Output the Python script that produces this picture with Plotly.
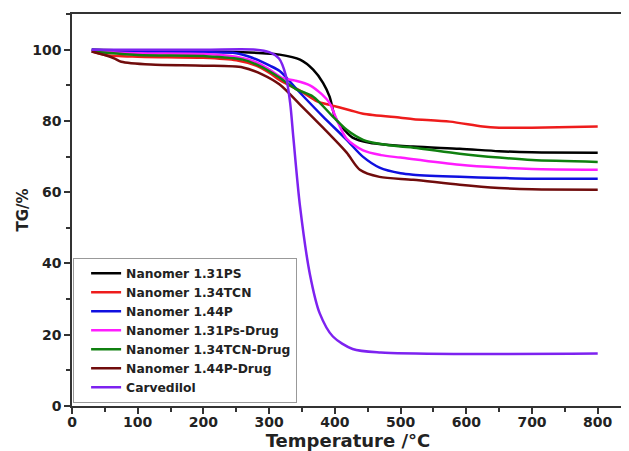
import plotly.graph_objects as go

# ---- data ----
t_131ps = [30, 100, 200, 260, 290, 316, 347, 367, 382, 392, 400, 408, 427, 453, 519, 590, 650, 700, 800]
tg_131ps = [100, 99.7, 99.5, 99.3, 99.0, 98.6, 97.2, 94.4, 90.7, 86.8, 81.2, 78.9, 75.3, 73.9, 72.8, 72.2, 71.5, 71.2, 71.1]

t_134tcn = [30, 50, 100, 200, 250, 280, 300, 320, 347, 373, 392, 423, 443, 500, 520, 575, 625, 650, 700, 800]
tg_134tcn = [99.5, 98.5, 98.0, 97.7, 97.0, 95.5, 93.5, 91.0, 88.5, 85.5, 84.5, 83.0, 82.0, 80.9, 80.5, 79.8, 78.4, 78.1, 78.1, 78.4]

t_144p = [30, 100, 200, 250, 270, 290, 301, 316, 347, 382, 418, 443, 468, 500, 519, 590, 650, 700, 800]
tg_144p = [100, 99.5, 99.3, 99.0, 98.0, 96.5, 95.5, 94.0, 87.9, 81.2, 74.7, 69.9, 66.9, 65.3, 64.9, 64.3, 64.0, 63.8, 63.8]

t_131ps_drug = [30, 100, 200, 250, 280, 300, 321, 340, 362, 380, 392, 403, 418, 443, 470, 500, 590, 651, 700, 800]
tg_131ps_drug = [99.5, 99.0, 98.8, 98.0, 96.5, 94.5, 92.0, 91.3, 90.0, 87.5, 85.0, 80.3, 75.0, 71.7, 70.4, 69.7, 67.7, 66.9, 66.5, 66.3]

t_134tcn_drug = [30, 100, 200, 260, 290, 316, 340, 367, 397, 418, 443, 470, 500, 520, 590, 650, 700, 800]
tg_134tcn_drug = [99.5, 98.5, 98.2, 97.2, 95.0, 92.1, 89.0, 86.8, 81.2, 77.5, 74.7, 73.5, 72.8, 72.5, 70.8, 69.7, 69.0, 68.5]

t_144p_drug = [30, 50, 65, 75, 120, 200, 260, 290, 316, 347, 382, 418, 438, 468, 519, 590, 650, 700, 800]
tg_144p_drug = [99.5, 98.5, 97.5, 96.6, 95.8, 95.5, 95.0, 93.0, 90.2, 84.6, 78.1, 71.1, 66.3, 64.3, 63.5, 62.1, 61.2, 60.8, 60.7]

t_carv = [30, 200, 280, 300, 315, 325, 332, 337, 347, 362, 377, 397, 427, 470, 600, 800]
tg_carv = [100, 100, 100, 99.3, 97.5, 93.0, 85.0, 75.0, 56.0, 37.0, 26.0, 19.5, 16.0, 15.0, 14.6, 14.7]

names = ["Nanomer 1.31PS", "Nanomer 1.34TCN", "Nanomer 1.44P", "Nanomer 1.31Ps-Drug",
         "Nanomer 1.34TCN-Drug", "Nanomer 1.44P-Drug", "Carvedilol"]
colors = ["#000000", "#ee1c1c", "#1010e0", "#ff1cff", "#108010", "#700c0c", "#7d22f0"]

series = [(t_131ps, tg_131ps), (t_134tcn, tg_134tcn), (t_144p, tg_144p),
          (t_131ps_drug, tg_131ps_drug), (t_134tcn_drug, tg_134tcn_drug),
          (t_144p_drug, tg_144p_drug), (t_carv, tg_carv)]

x_ticks = [0, 100, 200, 300, 400, 500, 600, 700, 800]
y_ticks = [0, 20, 40, 60, 80, 100]

fig = go.Figure()
for (t, tg), name, c in zip(series, names, colors):
    fig.add_trace(go.Scatter(x=t, y=tg, mode="lines", name=name,
                             line=dict(color=c, width=2.5, shape="spline", smoothing=0.8)))

ff = "DejaVu Sans, Liberation Sans, Arial, sans-serif"
axis_common = dict(showline=True, linecolor="#333", linewidth=1.5, mirror=True,
                   ticks="outside", ticklen=6, tickwidth=1.5, tickcolor="#333",
                   showgrid=False, zeroline=False, automargin=False,
                   tickfont=dict(family=ff, size=14, color="#222", weight="bold"))

# the page body adds an 8px offset; the figure is sized to the visible area
fig.update_layout(
    width=621, height=443,
    margin=dict(l=64, r=5, t=6, b=45),
    paper_bgcolor="white", plot_bgcolor="white",
    font=dict(family=ff, color="#222"),
    xaxis=dict(range=[0, 840], tickvals=x_ticks, ticklabelstandoff=-4,
               minor=dict(ticks="outside", ticklen=4, tickwidth=1.5, tickcolor="#333", dtick=50),
               title=dict(text="Temperature /°C", font=dict(size=18, family=ff, color="#222", weight="bold"), standoff=2),
               **axis_common),
    yaxis=dict(range=[0, 110], tickvals=y_ticks,
               minor=dict(ticks="outside", ticklen=4, tickwidth=1.5, tickcolor="#333", dtick=10),
               title=dict(text="TG/%", font=dict(size=15, family=ff, color="#222", weight="bold"), standoff=0),
               **axis_common),
    legend=dict(x=0.002, y=0.008, xanchor="left", yanchor="bottom",
                bgcolor="white", bordercolor="#999", borderwidth=1,
                font=dict(family=ff, size=12.3, color="#222", weight="bold"),
                tracegroupgap=0, indentation=12),
    showlegend=True,
)

fig.write_html("out.html")
